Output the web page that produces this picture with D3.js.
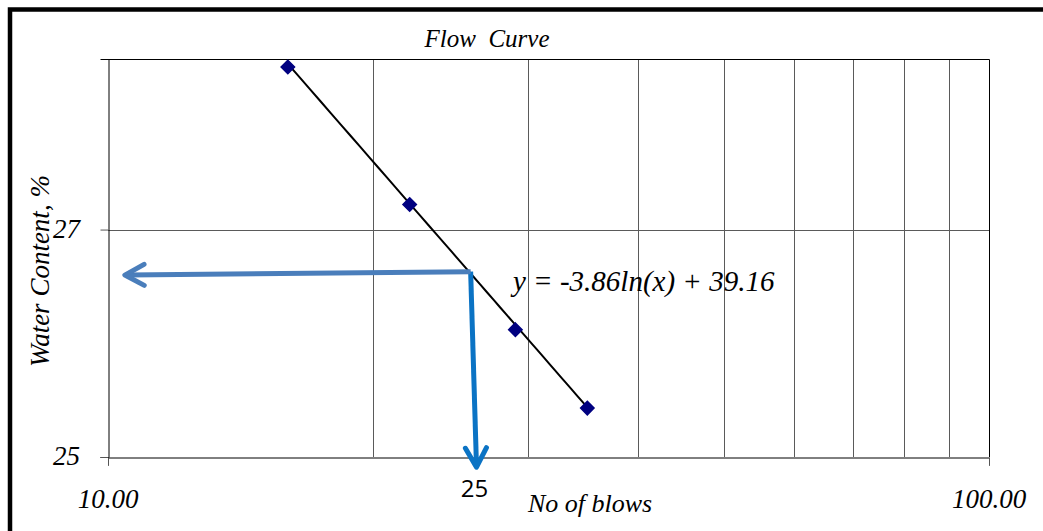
<!DOCTYPE html>
<html>
<head>
<meta charset="utf-8">
<script src="https://cdn.jsdelivr.net/npm/d3@7"></script>
<style>
  html, body { margin: 0; padding: 0; background: #fff; }
  svg { display: block; }
</style>
</head>
<body>
<svg id="svgRoot" width="1043" height="531"></svg>
<script>
// flow curve readings (no of blows vs water content)
const blows = [16, 22, 29, 35];
const waterContent = [28.43, 27.22, 26.12, 25.43];

// fitted trend: y = a ln(x) + b
const trendA = -3.86;
const trendB = 39.16;
const trendLabel = 'y = -3.86ln(x) + 39.16';

const xGridValues = [20, 30, 40, 50, 60, 70, 80, 90];
const xTickLabels = [{ v: 10, t: '10.00' }, { v: 100, t: '100.00' }];
const yTickValues = [25, 27];

// hand drawn read-off arrows, in data units
const readArrowH = { from: [25.8, 26.63], to: [10.45, 26.6] };
const readArrowV = { from: [25.8, 26.63], to: [26.2, 24.91] };
const readLabel = '25';

const SERIF = '"Liberation Serif", "Times New Roman", serif';

const svg = d3.select('#svgRoot');

const x = d3.scaleLog().domain([10, 100]).range([108, 989]);
const y = d3.scaleLinear().domain([25, 28.5]).range([457, 59]);

const serifText = (sel) => sel
  .attr('font-family', SERIF)
  .attr('font-style', 'italic')
  .attr('fill', '#000');

// outer frame
svg.append('rect')
  .attr('x', 10).attr('y', 9.5)
  .attr('width', 1100).attr('height', 600)
  .attr('fill', 'none')
  .attr('stroke', '#000')
  .attr('stroke-width', 4.5);

const plot = svg.append('g');

// grid
plot.selectAll('line.vgrid')
  .data(xGridValues)
  .enter().append('line')
  .attr('class', 'vgrid')
  .attr('x1', d => Math.round(x(d)) + 0.5).attr('x2', d => Math.round(x(d)) + 0.5)
  .attr('y1', y.range()[1]).attr('y2', y.range()[0])
  .attr('stroke', '#5a5a5a').attr('stroke-width', 1);

plot.selectAll('line.hgrid')
  .data(yTickValues.filter(d => d !== 25))
  .enter().append('line')
  .attr('class', 'hgrid')
  .attr('x1', x.range()[0]).attr('x2', x.range()[1])
  .attr('y1', d => Math.round(y(d)) + 0.5).attr('y2', d => Math.round(y(d)) + 0.5)
  .attr('stroke', '#5a5a5a').attr('stroke-width', 1);

// plot border (top, right)
plot.append('path')
  .attr('d', `M${x.range()[0]},${y.range()[1] + 0.5}H${x.range()[1] + 0.5}V${y.range()[0]}`)
  .attr('fill', 'none').attr('stroke', '#000').attr('stroke-width', 1);

// axes
const xAxis = svg.append('g')
  .attr('transform', `translate(0,${y.range()[0] + 0.5})`)
  .call(d3.axisBottom(x).tickValues([10, 100]).tickSize(8).tickFormat(''));
xAxis.select('.domain').attr('stroke', '#000');
xAxis.selectAll('.tick line').attr('stroke', '#555');

const yAxis = svg.append('g')
  .attr('transform', `translate(${x.range()[0] + 0.5},0)`)
  .call(d3.axisLeft(y).tickValues(yTickValues).tickSize(8).tickFormat(''));
yAxis.select('.domain').attr('stroke', '#000');
yAxis.selectAll('.tick line').attr('stroke', '#555');

// tick labels
svg.selectAll('text.xtick')
  .data(xTickLabels)
  .enter().append('text')
  .attr('class', 'xtick')
  .call(serifText)
  .attr('x', d => x(d.v)).attr('y', 508)
  .attr('text-anchor', 'middle')
  .attr('font-size', 27)
  .text(d => d.t);

svg.selectAll('text.ytick')
  .data(yTickValues)
  .enter().append('text')
  .attr('class', 'ytick')
  .call(serifText)
  .attr('x', 80).attr('y', d => y(d) + 8)
  .attr('text-anchor', 'end')
  .attr('font-size', 27)
  .text(d => d);

// titles
svg.append('text')
  .call(serifText)
  .attr('x', 487).attr('y', 47)
  .attr('text-anchor', 'middle')
  .attr('font-size', 25)
  .style('white-space', 'pre')
  .text('Flow  Curve');

svg.append('text')
  .call(serifText)
  .attr('x', 590).attr('y', 512)
  .attr('text-anchor', 'middle')
  .attr('font-size', 26)
  .text('No of blows');

svg.append('text')
  .call(serifText)
  .attr('transform', 'translate(49,271) rotate(-90)')
  .attr('text-anchor', 'middle')
  .attr('font-size', 27)
  .text('Water Content, %');

// trend line
const trendPts = d3.range(0, 41).map(i => {
  const bx = blows[0] + (blows[blows.length - 1] - blows[0]) * i / 40;
  return [bx, trendA * Math.log(bx) + trendB];
});
plot.append('path')
  .datum(trendPts)
  .attr('d', d3.line().x(d => x(d[0])).y(d => y(d[1])))
  .attr('fill', 'none')
  .attr('stroke', '#000')
  .attr('stroke-width', 2);

// markers
const diamond = d3.symbol().type(d3.symbolDiamond2).size(115);
plot.selectAll('path.pt')
  .data(blows.map((b, i) => [b, waterContent[i]]))
  .enter().append('path')
  .attr('class', 'pt')
  .attr('d', diamond)
  .attr('transform', d => `translate(${x(d[0])},${y(d[1])})`)
  .attr('fill', '#000080')
  .attr('stroke', '#000080')
  .attr('stroke-width', 1.5);

// equation
svg.append('text')
  .call(serifText)
  .attr('x', 513).attr('y', 291)
  .attr('font-size', 29)
  .text(trendLabel);

// read-off arrows
function drawArrow(a, color) {
  const x1 = x(a.from[0]), y1 = y(a.from[1]);
  const x2 = x(a.to[0]), y2 = y(a.to[1]);
  const ang = Math.atan2(y2 - y1, x2 - x1);
  const len = 22, spread = 0.5;
  const h1 = [x2 - len * Math.cos(ang - spread), y2 - len * Math.sin(ang - spread)];
  const h2 = [x2 - len * Math.cos(ang + spread), y2 - len * Math.sin(ang + spread)];
  svg.append('line')
    .attr('x1', x1).attr('y1', y1).attr('x2', x2 - 3 * Math.cos(ang)).attr('y2', y2 - 3 * Math.sin(ang))
    .attr('stroke', color).attr('stroke-width', 5);
  svg.append('path')
    .attr('d', `M${h1[0]},${h1[1]}L${x2},${y2}L${h2[0]},${h2[1]}`)
    .attr('fill', 'none').attr('stroke', color)
    .attr('stroke-width', 5).attr('stroke-linecap', 'round').attr('stroke-linejoin', 'round');
}
drawArrow(readArrowV, '#0b73c4');
drawArrow(readArrowH, '#4a7ebb');

svg.append('text')
  .attr('x', x(readArrowV.to[0]) - 2).attr('y', 497)
  .attr('text-anchor', 'middle')
  .attr('font-family', '"Open Sans", "Noto Sans", sans-serif')
  .attr('font-size', 24)
  .attr('fill', '#000')
  .text(readLabel);
</script>
</body>
</html>
